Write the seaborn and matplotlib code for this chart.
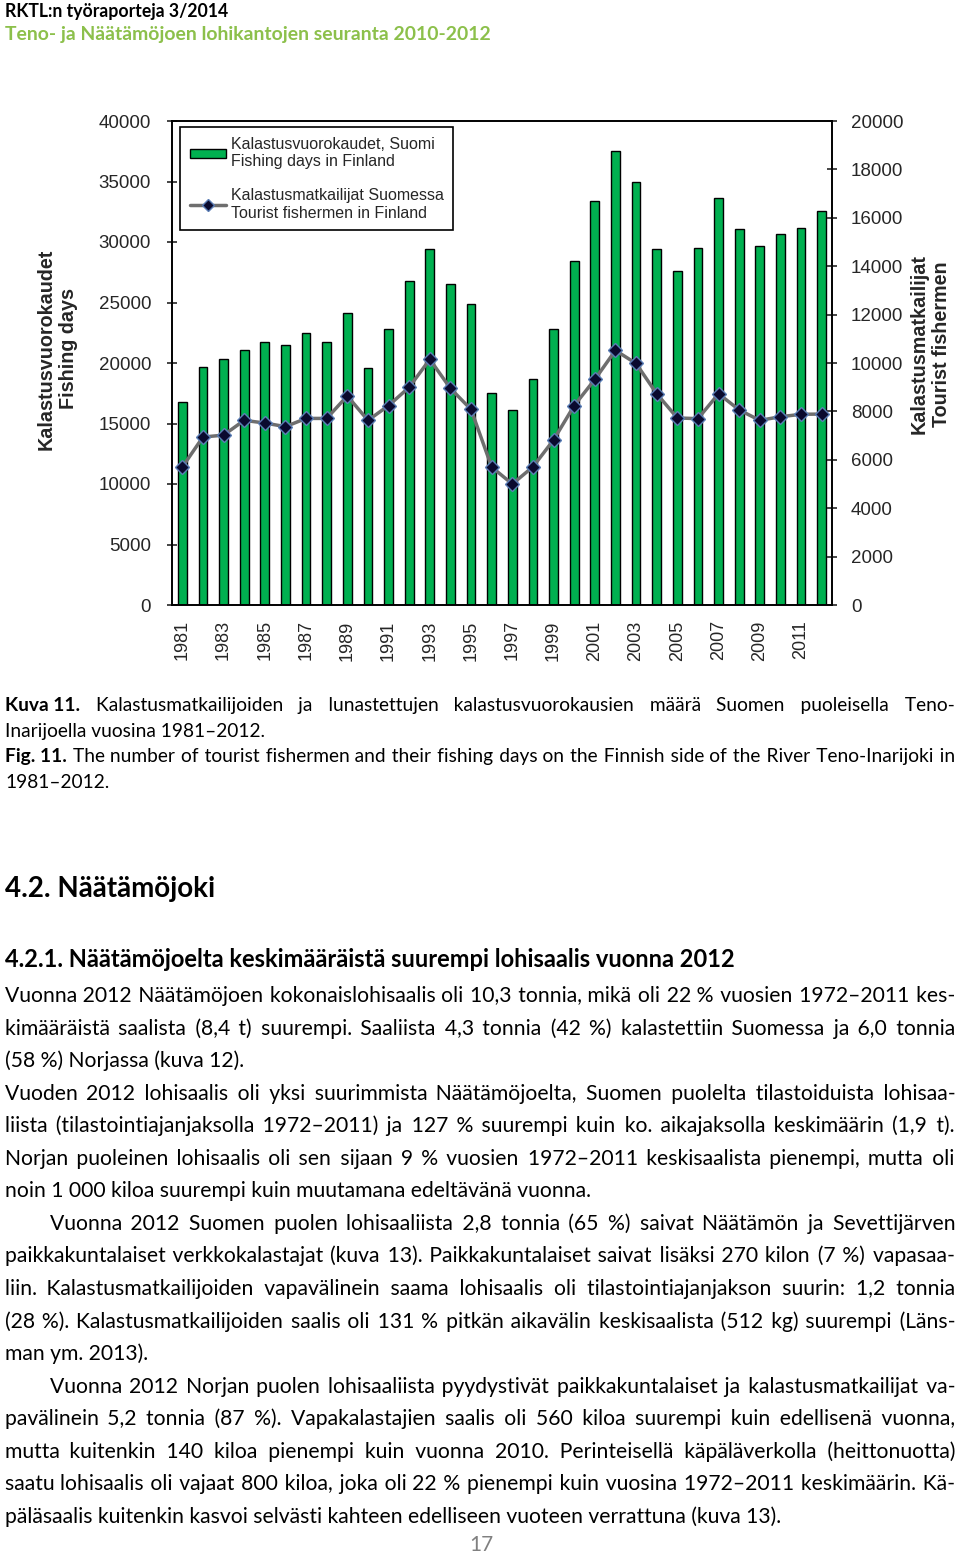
"""Report page: fishing days and tourist fishermen on the Teno, with the body text below."""

import matplotlib

matplotlib.use("Agg")
import matplotlib.pyplot as plt
import numpy as np
import pandas as pd
import seaborn as sns
from matplotlib import font_manager
from matplotlib.ft2font import FT2Font
from matplotlib.lines import Line2D
from matplotlib.patches import Patch
from matplotlib.transforms import IdentityTransform

# --- data ---
years = list(range(1981, 2013))
fishing_days = [16800, 19700, 20300, 21100, 21700, 21500, 22500, 21700, 24100, 19600,
                22800, 26750, 29400, 26500, 24850, 17500, 16150, 18700, 22800, 28400,
                33400, 37500, 34950, 29400, 27600, 29500, 33600, 31050, 29700, 30650,
                31150, 32550]
tourist_fishermen = [5700, 6940, 7020, 7630, 7520, 7370, 7710, 7710, 8640, 7630,
                     8240, 9000, 10150, 8950, 8080, 5700, 5000, 5710, 6820, 8240,
                     9320, 10520, 9980, 8730, 7730, 7700, 8730, 8060, 7630, 7780,
                     7880, 7890]
left_ticks = list(range(0, 40001, 5000))
right_ticks = list(range(0, 20001, 2000))
bar_label = "Kalastusvuorokaudet, Suomi\nFishing days in Finland"
line_label = "Kalastusmatkailijat Suomessa\nTourist fishermen in Finland"
left_title = "Kalastusvuorokaudet\nFishing days"
right_title = "Kalastusmatkailijat\nTourist fishermen"

header_top = "RKTL:n työraporteja 3/2014"
header_green = "Teno- ja Näätämöjoen lohikantojen seuranta 2010-2012"
caption = [
    ("Kuva 11.", "Kalastusmatkailijoiden ja lunastettujen kalastusvuorokausien määrä Suomen puoleisella Teno-", True),
    ("", "Inarijoella vuosina 1981–2012.", False),
    ("Fig. 11.", "The number of tourist fishermen and their fishing days on the Finnish side of the River Teno-Inarijoki in", True),
    ("", "1981–2012.", False),
]
heading = "4.2. Näätämöjoki"
subheading = "4.2.1. Näätämöjoelta keskimääräistä suurempi lohisaalis vuonna 2012"
body_paragraphs = [
    (False, [
        "Vuonna 2012 Näätämöjoen kokonaislohisaalis oli 10,3 tonnia, mikä oli 22 % vuosien 1972–2011 kes-",
        "kimääräistä saalista (8,4 t) suurempi. Saaliista 4,3 tonnia (42 %) kalastettiin Suomessa ja 6,0 tonnia",
        "(58 %) Norjassa (kuva 12).",
    ]),
    (False, [
        "Vuoden 2012 lohisaalis oli yksi suurimmista Näätämöjoelta, Suomen puolelta tilastoiduista lohisaa-",
        "liista (tilastointiajanjaksolla 1972–2011) ja 127 % suurempi kuin ko. aikajaksolla keskimäärin (1,9 t).",
        "Norjan puoleinen lohisaalis oli sen sijaan 9 % vuosien 1972–2011 keskisaalista pienempi, mutta oli",
        "noin 1\u00a0000 kiloa suurempi kuin muutamana edeltävänä vuonna.",
    ]),
    (True, [
        "Vuonna 2012 Suomen puolen lohisaaliista 2,8 tonnia (65 %) saivat Näätämön ja Sevettijärven",
        "paikkakuntalaiset verkkokalastajat (kuva 13). Paikkakuntalaiset saivat lisäksi 270 kilon (7 %) vapasaa-",
        "liin. Kalastusmatkailijoiden vapavälinein saama lohisaalis oli tilastointiajanjakson suurin: 1,2 tonnia",
        "(28 %). Kalastusmatkailijoiden saalis oli 131 % pitkän aikavälin keskisaalista (512 kg) suurempi (Läns-",
        "man ym. 2013).",
    ]),
    (True, [
        "Vuonna 2012 Norjan puolen lohisaaliista pyydystivät paikkakuntalaiset ja kalastusmatkailijat va-",
        "pavälinein 5,2 tonnia (87 %). Vapakalastajien saalis oli 560 kiloa suurempi kuin edellisenä vuonna,",
        "mutta kuitenkin 140 kiloa pienempi kuin vuonna 2010. Perinteisellä käpäläverkolla (heittonuotta)",
        "saatu lohisaalis oli vajaat 800 kiloa, joka oli 22 % pienempi kuin vuosina 1972–2011 keskimäärin. Kä-",
        "päläsaalis kuitenkin kasvoi selvästi kahteen edelliseen vuoteen verrattuna (kuva 13).",
    ]),
]
page_number = "17"

GREEN = "#00B050"
W, H = 960, 1556

sns.set_style("white")
plt.rcParams["font.family"] = ["Liberation Sans", "DejaVu Sans"]
TEXT_FONT = "Lato"


def has_glyph(ch, weight):
    path = font_manager.findfont(font_manager.FontProperties(family=TEXT_FONT, weight=weight))
    return FT2Font(path).get_char_index(ord(ch)) != 0


# finest space the font has, used to spread justified lines
FILL = next((c for c in ["\u200a", "\u2009", "\u2006"]
             if has_glyph(c, "normal") and has_glyph(c, "bold")), " ")

fig = plt.figure(figsize=(W / 100, H / 100), dpi=100)
fig.patch.set_facecolor("white")
renderer = fig.canvas.get_renderer()

# --- chart ---
df = pd.DataFrame({"year": [str(y) for y in years], "days": fishing_days})
ax = fig.add_axes([172 / W, 1 - 605 / H, 660 / W, 484 / H])
sns.barplot(data=df, x="year", y="days", color=GREEN, saturation=1, width=0.42,
            edgecolor="black", linewidth=1.0, ax=ax)
ax2 = ax.twinx()
sns.lineplot(x=np.arange(len(years)), y=tourist_fishermen, ax=ax2, color="#6E6E6E",
             linewidth=2.5, marker="D", markersize=7, markerfacecolor="#0A0A2E",
             markeredgecolor="#5A7DB5", markeredgewidth=1)

ax.set_xlim(-0.5, len(years) - 0.5)
ax.set_ylim(0, 40000)
ax2.set_ylim(0, 20000)
ax.set_xlabel("")
ax.set_ylabel("")
ax2.set_ylabel("")

ax.set_yticks(left_ticks)
ax.set_yticklabels([str(v) for v in left_ticks])
ax2.set_yticks(right_ticks)
ax2.set_yticklabels([str(v) for v in right_ticks])
ax.tick_params(axis="y", direction="inout", length=7, width=1.2, labelsize=13.5, pad=11.6)
ax2.tick_params(axis="y", direction="inout", length=7, width=1.2, labelsize=13.5, pad=10.2)

ax.set_xticks(np.arange(0, len(years), 2))
ax.set_xticklabels([str(y) for y in years[::2]], rotation=90)
ax.set_xticks(np.arange(-0.5, len(years), 1), minor=True)
ax.tick_params(axis="x", which="major", length=0, labelsize=13, pad=11)
ax.tick_params(axis="x", which="minor", direction="out", length=4.5, width=1.2)

for a in (ax, ax2):
    for s in a.spines.values():
        s.set_visible(True)
        s.set_color("black")
        s.set_linewidth(1.2)

ax.text(-0.174, 0.529, left_title, transform=ax.transAxes, rotation=90, ha="center",
        va="center", fontsize=14.2, fontweight="bold", multialignment="center")
ax2.text(1.1485, 0.539, right_title, transform=ax.transAxes, rotation=90, ha="center",
         va="center", fontsize=14.2, fontweight="bold", multialignment="center")

handles = [
    Patch(facecolor=GREEN, edgecolor="black", linewidth=1),
    Line2D([], [], color="#6E6E6E", linewidth=2.5, marker="D", markersize=6,
           markerfacecolor="#0A0A2E", markeredgecolor="#5A7DB5"),
]
leg = ax2.legend(handles, [bar_label, line_label], loc="upper left",
                 bbox_to_anchor=(0.012, 0.9876), borderaxespad=0, fontsize=11.5,
                 frameon=True, fancybox=False, framealpha=1, edgecolor="black",
                 handlelength=2.3, handleheight=0.5, labelspacing=1.2,
                 borderpad=0.6, handletextpad=0.3)
leg.get_frame().set_linewidth(1.2)


# --- page text, placed in pixel coordinates ---
def put(x, y, s, size, bold=False, color="black", ha="left"):
    return fig.text(x, H - y, s, transform=IdentityTransform(), fontsize=size,
                    family=TEXT_FONT, fontweight="bold" if bold else "normal",
                    va="baseline", ha=ha, color=color)


def text_width(s, size, bold=False):
    t = put(0, 0, s, size, bold)
    w = t.get_window_extent(renderer).width
    t.remove()
    return w


def fill_width(size, bold=False):
    return (text_width("a" + FILL * 20 + "a", size, bold) - text_width("aa", size, bold)) / 20


def justified(text, target, size, bold=False):
    words = text.split(" ")
    gaps = len(words) - 1
    units = max(0, round((target - text_width(text, size, bold)) / fill_width(size, bold)))
    out = words[0]
    for i in range(gaps):
        n = units * (i + 1) // gaps - units * i // gaps
        out += " " + FILL * n + words[i + 1]
    return out


def fit(text, target, bold=False, ref=10.0):
    return ref * target / text_width(text, ref, bold)


X0, X1 = 5, 955

# header
put(X0, 17, header_top, fit(header_top, 223, True), bold=True)
put(X0, 40, header_green, fit(header_green, 486, True), bold=True, color="#8CC04B")

# caption: bold figure number, then the justified rest
cap_size = fit(caption[1][1], 260)
for bold_part, rest, just in caption:
    if just:
        cap_size = min(cap_size, 0.99 * fit(bold_part + " " + rest, X1 - X0))
for (bold_part, rest, just), y in zip(caption, [711, 737, 762, 788]):
    x = X0
    if bold_part:
        put(x, y, bold_part, cap_size, bold=True)
        pw = text_width(bold_part, cap_size, True)
        sp = text_width("a a", cap_size) - text_width("aa", cap_size)
        natural = pw + sp + text_width(rest, cap_size)
        per_gap = (X1 - X0 - natural) / (len(rest.split(" ")))
        x = X0 + pw + sp + per_gap
    put(x, y, justified(rest, X1 - x, cap_size) if just else rest, cap_size)

# headings
put(X0, 897, heading, fit(heading, 210, True), bold=True)
put(X0, 967, subheading, fit(subheading, 732, True), bold=True)

# body
body_size = fit(body_paragraphs[-1][1][-1], 782)
for indent, lines in body_paragraphs:
    for i, line in enumerate(lines[:-1]):
        avail = X1 - X0 - (45 if indent and i == 0 else 0)
        body_size = min(body_size, 0.99 * fit(line, avail))
row = 0
for indent, lines in body_paragraphs:
    for i, line in enumerate(lines):
        x0 = X0 + (45 if indent and i == 0 else 0)
        s = justified(line, X1 - x0, body_size) if i < len(lines) - 1 else line
        put(x0, 1002 + 32.56 * row, s, body_size)
        row += 1

put(481, 1551, page_number, 15, color="#808080", ha="center")

fig.savefig("out.png", dpi=100, facecolor="white")
plt.close(fig)
